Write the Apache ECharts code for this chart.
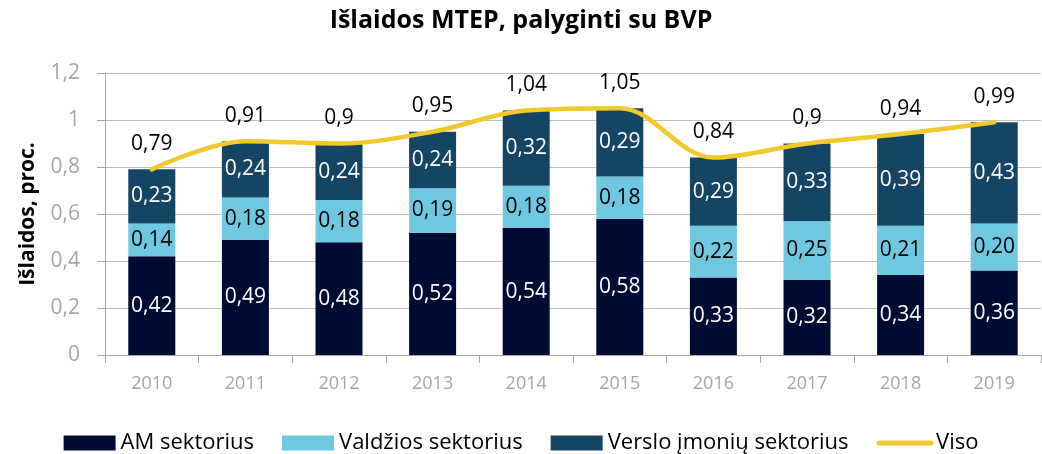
<!DOCTYPE html>
<head>
  <meta charset="utf-8">
  <title>Išlaidos MTEP, palyginti su BVP</title>
  <script src="https://cdn.jsdelivr.net/npm/echarts@6/dist/echarts.min.js"></script>
  <style>
    body { margin: 0; background: #fff; }
  </style>
</head>
<body>
  <div id="main" style="width: 1042px;height:454px;"></div>
  <script>
    var years = ['2010', '2011', '2012', '2013', '2014', '2015', '2016', '2017', '2018', '2019'];
    var amSector = [0.42, 0.49, 0.48, 0.52, 0.54, 0.58, 0.33, 0.32, 0.34, 0.36];
    var govSector = [0.14, 0.18, 0.18, 0.19, 0.18, 0.18, 0.22, 0.25, 0.21, 0.20];
    var bizSector = [0.23, 0.24, 0.24, 0.24, 0.32, 0.29, 0.29, 0.33, 0.39, 0.43];
    var total = [0.79, 0.91, 0.9, 0.95, 1.04, 1.05, 0.84, 0.9, 0.94, 0.99];

    var font = '"Open Sans", sans-serif';
    var comma2 = function (p) { return p.value.toFixed(2).replace('.', ','); };

    function barSeries(name, data, color, textColor) {
      return {
        name: name,
        type: 'bar',
        stack: 'sum',
        barWidth: 47,
        data: data,
        itemStyle: { color: color },
        label: {
          show: true,
          position: 'inside',
          color: textColor,
          fontFamily: font,
          fontSize: 21,
          formatter: comma2
        }
      };
    }

    var myChart = echarts.init(document.getElementById('main'));
    var option = {
      animation: false,
      title: {
        text: 'Išlaidos MTEP, palyginti su BVP',
        left: 'center',
        top: 3,
        textStyle: { fontFamily: font, fontSize: 25, fontWeight: 'bold', color: '#000' }
      },
      legend: {
        top: 427,
        left: 'center',
        itemWidth: 52,
        itemHeight: 15,
        itemGap: 28,
        textStyle: { fontFamily: font, fontSize: 22, color: '#000' },
        data: [
          { name: 'AM sektorius', icon: 'rect' },
          { name: 'Valdžios sektorius', icon: 'rect' },
          { name: 'Verslo įmonių sektorius', icon: 'rect' },
          { name: 'Viso', itemStyle: { opacity: 0 }, lineStyle: { width: 5, cap: 'round' } }
        ]
      },
      grid: { left: 105, right: 1, top: 73, bottom: 99 },
      xAxis: {
        type: 'category',
        data: years,
        axisLine: { lineStyle: { color: '#a6a6a6' } },
        axisTick: { show: true, length: 8, lineStyle: { color: '#a6a6a6' } },
        axisLabel: { color: '#a6a6a6', fontFamily: font, fontSize: 18, margin: 20 }
      },
      yAxis: {
        type: 'value',
        min: 0,
        max: 1.2,
        interval: 0.2,
        name: 'Išlaidos, proc.',
        nameLocation: 'middle',
        nameGap: 66,
        nameTextStyle: { fontFamily: font, fontSize: 21, fontWeight: 'bold', color: '#000' },
        axisLine: { show: true, lineStyle: { color: '#a6a6a6' } },
        axisTick: { show: true, length: 8, lineStyle: { color: '#a6a6a6' } },
        splitLine: { lineStyle: { color: '#bfbfbf' } },
        axisLabel: {
          color: '#a6a6a6', fontFamily: font, fontSize: 21, margin: 25,
          formatter: function (v) { return String(Math.round(v * 10) / 10).replace('.', ','); }
        }
      },
      series: [
        barSeries('AM sektorius', amSector, '#000b33', '#fff'),
        barSeries('Valdžios sektorius', govSector, '#6fc8e0', '#000'),
        barSeries('Verslo įmonių sektorius', bizSector, '#144564', '#fff'),
        {
          name: 'Viso',
          type: 'line',
          data: total,
          smooth: 0.35,
          symbol: 'circle',
          symbolSize: 0.1,
          showSymbol: true,
          lineStyle: { color: '#f2c82a', width: 4.5, cap: 'round' },
          itemStyle: { color: '#f2c82a' },
          label: {
            show: true,
            position: 'top',
            distance: 15,
            color: '#000',
            fontFamily: font,
            fontSize: 21,
            formatter: function (p) { return String(p.value).replace('.', ','); }
          },
          z: 5
        }
      ]
    };
    myChart.setOption(option);
  </script>
</body>
